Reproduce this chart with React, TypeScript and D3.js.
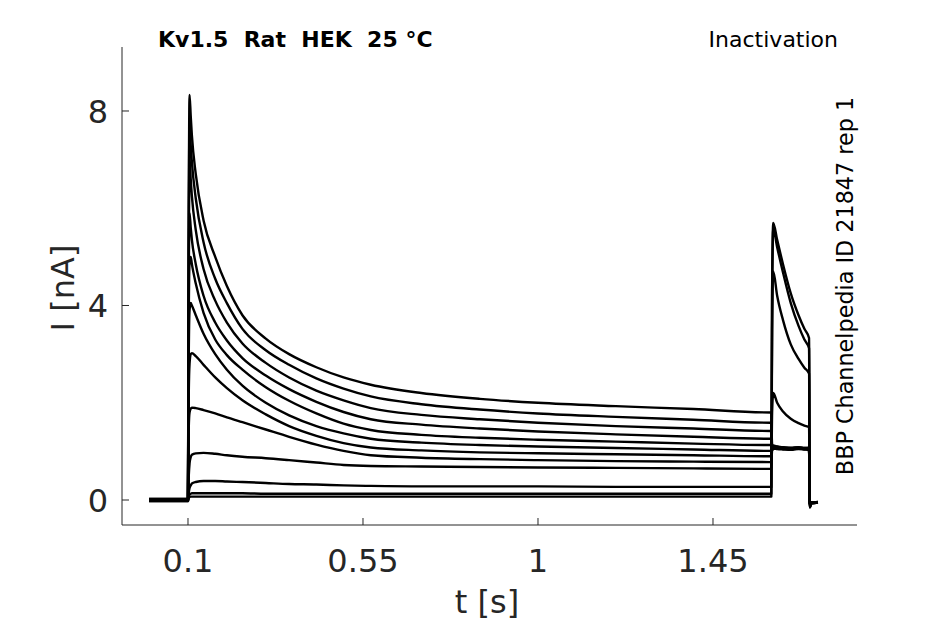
import React from "react";
import * as d3 from "d3";

const W = 945;
const H = 624;

// time points (s)
const times = [0, 0.0995, 0.1, 0.102, 0.104, 0.107, 0.11, 0.12, 0.14, 0.17, 0.2, 0.24, 0.3, 0.36, 0.43, 0.5, 0.57, 0.7, 0.85, 1.0, 1.2, 1.4, 1.598, 1.6, 1.602, 1.605, 1.615, 1.63, 1.65, 1.67, 1.685, 1.697, 1.699, 1.703, 1.72];

// current traces (nA)
const trace1 = [0, 0, 0, 6.0, 8.33, 7.9, 7.5, 6.7, 5.75, 5.0, 4.4, 3.8, 3.32, 3.0, 2.73, 2.52, 2.37, 2.2, 2.08, 2.0, 1.93, 1.87, 1.8, 1.8, 1.05, 1.1, 1.08, 1.07, 1.06, 1.07, 1.05, 1.06, -0.1, -0.06, -0.04];
const trace2 = [0.02, 0.02, 0.02, 5.5, 7.8, 7.3, 6.95, 6.2, 5.3, 4.55, 4.05, 3.52, 3.08, 2.78, 2.5, 2.29, 2.13, 1.97, 1.86, 1.78, 1.71, 1.65, 1.59, 1.59, 1.1, 1.12, 1.1, 1.08, 1.07, 1.08, 1.07, 1.07, -0.12, -0.06, -0.04];
const trace3 = [-0.02, -0.02, -0.02, 5.0, 7.05, 6.6, 6.25, 5.55, 4.75, 4.1, 3.65, 3.22, 2.82, 2.52, 2.25, 2.05, 1.89, 1.75, 1.66, 1.59, 1.52, 1.47, 1.42, 1.42, 1.05, 1.08, 1.06, 1.05, 1.04, 1.06, 1.05, 1.04, -0.1, -0.05, -0.05];
const trace4 = [0, 0, 0, 4.5, 5.9, 5.6, 5.35, 4.85, 4.2, 3.65, 3.28, 2.92, 2.56, 2.28, 2.02, 1.81, 1.66, 1.55, 1.47, 1.41, 1.35, 1.3, 1.26, 1.26, 1.02, 1.06, 1.05, 1.04, 1.03, 1.05, 1.04, 1.03, -0.1, -0.05, -0.05];
const trace5 = [0.02, 0.02, 0.02, 3.8, 4.9, 5.0, 4.85, 4.45, 3.85, 3.3, 2.98, 2.68, 2.32, 2.04, 1.78, 1.57, 1.44, 1.34, 1.28, 1.24, 1.2, 1.16, 1.13, 1.13, 1.08, 1.1, 1.09, 1.08, 1.07, 1.08, 1.06, 1.07, -0.1, -0.05, -0.05];
const trace6 = [-0.02, -0.02, -0.02, 3.0, 3.9, 4.05, 4.0, 3.8, 3.42, 3.0, 2.68, 2.35, 2.0, 1.74, 1.52, 1.37, 1.26, 1.18, 1.13, 1.1, 1.07, 1.04, 1.01, 1.01, 1.05, 1.09, 1.08, 1.07, 1.06, 1.07, 1.06, 1.06, -0.1, -0.05, -0.05];
const trace7 = [0, 0, 0, 2.2, 2.8, 3.0, 3.02, 2.96, 2.78, 2.52, 2.3, 2.05, 1.76, 1.52, 1.32, 1.17, 1.08, 1.02, 0.98, 0.96, 0.94, 0.92, 0.9, 0.9, 1.06, 1.1, 1.09, 1.08, 1.07, 1.08, 1.07, 1.07, -0.1, -0.05, -0.05];
const trace8 = [0.01, 0.01, 0.01, 1.5, 1.8, 1.88, 1.9, 1.89, 1.85, 1.78, 1.7, 1.6, 1.45, 1.3, 1.14, 1.01, 0.92, 0.87, 0.84, 0.82, 0.8, 0.79, 0.78, 0.78, 1.03, 1.08, 1.07, 1.06, 1.05, 1.06, 1.05, 1.05, -0.1, -0.05, -0.05];
const trace9 = [-0.01, -0.01, -0.01, 0.5, 0.75, 0.88, 0.93, 0.96, 0.97, 0.95, 0.92, 0.89, 0.86, 0.82, 0.77, 0.72, 0.7, 0.69, 0.68, 0.67, 0.66, 0.65, 0.64, 0.64, 1.8, 2.2, 2.0, 1.82, 1.67, 1.58, 1.53, 1.5, -0.12, -0.06, -0.05];
const trace10 = [0, 0, 0, 0.15, 0.25, 0.3, 0.34, 0.37, 0.39, 0.39, 0.38, 0.37, 0.35, 0.33, 0.32, 0.3, 0.29, 0.28, 0.28, 0.28, 0.27, 0.27, 0.27, 0.27, 3.5, 4.7, 4.2, 3.7, 3.2, 2.9, 2.72, 2.6, -0.15, -0.07, -0.05];
const trace11 = [0.01, 0.01, 0.01, 0.08, 0.11, 0.13, 0.14, 0.14, 0.14, 0.14, 0.14, 0.14, 0.13, 0.13, 0.13, 0.13, 0.13, 0.13, 0.13, 0.13, 0.13, 0.13, 0.13, 0.13, 4.2, 5.58, 5.2, 4.68, 4.05, 3.58, 3.3, 3.12, -0.15, -0.07, -0.05];
const trace12 = [-0.01, -0.01, -0.01, 0.04, 0.06, 0.07, 0.07, 0.07, 0.07, 0.07, 0.07, 0.07, 0.07, 0.07, 0.07, 0.07, 0.07, 0.07, 0.07, 0.07, 0.07, 0.07, 0.07, 0.07, 4.3, 5.7, 5.35, 4.85, 4.25, 3.8, 3.52, 3.33, -0.15, -0.07, -0.05];

const traces = [trace1, trace2, trace3, trace4, trace5, trace6, trace7, trace8, trace9, trace10, trace11, trace12];

const xTicks = [0.1, 0.55, 1, 1.45];
const xTickLabels = ["0.1", "0.55", "1", "1.45"];
const yTicks = [0, 4, 8];
const yTickLabels = ["0", "4", "8"];

const titleText = "Kv1.5  Rat  HEK  25 °C";
const protocolText = "Inactivation";
const sourceText = "BBP Channelpedia ID 21847 rep 1";
const xLabel = "t [s]";
const yLabel = "I [nA]";

const PL = 122, PR = 857, PT = 47, PB = 525;
const FONT = "'DejaVu Sans', sans-serif";
const AX = "#262626";

export default function App() {
  const x = d3.scaleLinear().domain([-0.0697, 1.8203]).range([PL, PR]);
  const y = d3.scaleLinear().domain([-0.514, 9.316]).range([PB, PT]);
  const line = d3
    .line<[number, number]>()
    .x((d) => x(d[0]))
    .y((d) => y(d[1]))
    .curve(d3.curveMonotoneX);

  return (
    <svg width={W} height={H} style={{ position: "absolute", left: 0, top: 0, background: "#fff" }}>
      <rect x={0} y={0} width={W} height={H} fill="#fff" />
      {traces.map((tr, i) => (
        <path
          key={i}
          d={line(tr.map((v, j) => [times[j], v] as [number, number])) || ""}
          fill="none"
          stroke="#000"
          strokeWidth={2.4}
          strokeLinejoin="round"
        />
      ))}
      {/* axes */}
      <line x1={PL} x2={PL} y1={PT} y2={PB} stroke={AX} strokeWidth={1} />
      <line x1={PL} x2={PR} y1={PB} y2={PB} stroke={AX} strokeWidth={1} />
      {xTicks.map((t, i) => (
        <g key={"xt" + i}>
          <line x1={x(t)} x2={x(t)} y1={PB} y2={PB - 7} stroke={AX} strokeWidth={1} />
          <text x={x(t)} y={572} textAnchor="middle" fontFamily={FONT} fontSize={32} fill={AX}>
            {xTickLabels[i]}
          </text>
        </g>
      ))}
      {yTicks.map((t, i) => (
        <g key={"yt" + i}>
          <line x1={PL} x2={PL + 7} y1={y(t)} y2={y(t)} stroke={AX} strokeWidth={1} />
          <text x={108} y={y(t)} dy="0.36em" textAnchor="end" fontFamily={FONT} fontSize={32} fill={AX}>
            {yTickLabels[i]}
          </text>
        </g>
      ))}
      <text x={487} y={613} textAnchor="middle" fontFamily={FONT} fontSize={32} fill={AX}>
        {xLabel}
      </text>
      <text
        transform={`translate(74, 288) rotate(-90)`}
        textAnchor="middle"
        fontFamily={FONT}
        fontSize={32}
        fill={AX}
      >
        {yLabel}
      </text>
      <text x={158} y={47} fontFamily={FONT} fontSize={22} fontWeight="bold" fill="#000" style={{ whiteSpace: "pre" }}>
        {titleText}
      </text>
      <text x={838} y={47} textAnchor="end" fontFamily={FONT} fontSize={22} fill="#000">
        {protocolText}
      </text>
      <text
        transform={`translate(853, 286) rotate(-90)`}
        textAnchor="middle"
        fontFamily={FONT}
        fontSize={22.3}
        fill="#000"
      >
        {sourceText}
      </text>
    </svg>
  );
}
